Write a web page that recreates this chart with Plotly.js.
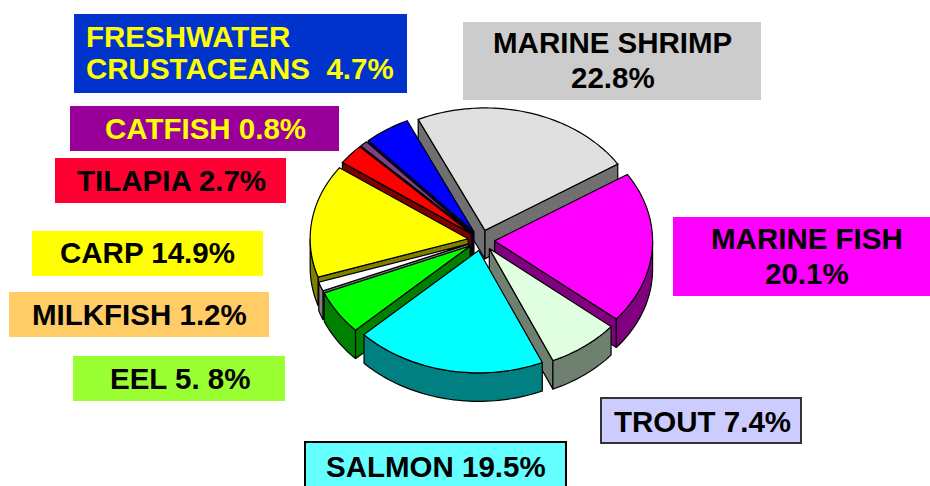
<!DOCTYPE html>
<html>
<head>
<meta charset="utf-8">
<script src="https://cdn.plot.ly/plotly-3.0.1.min.js"></script>
<style>html,body{margin:0;padding:0;background:#fff;overflow:hidden}#chart{width:930px;height:486px}</style>
</head>
<body>
<div id="chart"></div>
<script>
// Data, clockwise from the first slice
const categories = ['MARINE SHRIMP','MARINE FISH','TROUT','SALMON','EEL','MILKFISH','CARP','TILAPIA','CATFISH','FRESHWATER CRUSTACEANS'];
const shares = [22.8,20.1,7.4,19.5,5.8,1.2,14.9,2.7,0.8,4.7];
const topColors = ['#E0E0E0','#FF00FF','#E0FFE0','#00FFFF','#00FF00','#FFFFFF','#FFFF00','#FF0000','#804080','#0000FF'];
const sideColors = ['#707070','#800080','#708070','#008080','#008000','#808080','#808000','#800000','#402040','#000080'];
const labelLines = [['MARINE SHRIMP','22.8%'],['MARINE FISH','20.1%'],['TROUT 7.4%'],['SALMON 19.5%'],['EEL 5. 8%'],['MILKFISH 1.2%'],['CARP 14.9%'],['TILAPIA 2.7%'],['CATFISH 0.8%'],['FRESHWATER','CRUSTACEANS  4.7%']];

// Label styling (pixel boxes of the page)
const boxes = [
  {x0:463,x1:761,y0:22,y1:100,fill:'#CCCCCC',text:'#000',tx:612.5,ty:[43,77]},
  {x0:673,x1:930,y0:217,y1:296,fill:'#FF00FF',text:'#000',tx:807,ty:[238,273]},
  {x0:601,x1:801,y0:398,y1:443,fill:'#CCCCFF',text:'#000',tx:702,ty:[421],border:'#333333'},
  {x0:305,x1:566,y0:442,y1:492,fill:'#66FFFF',text:'#000',tx:435.5,ty:[466],border:'#000000'},
  {x0:73,x1:285,y0:356,y1:401,fill:'#99FF33',text:'#000',tx:179.5,ty:[378]},
  {x0:9,x1:269,y0:292,y1:337,fill:'#FFCC66',text:'#000',tx:139.5,ty:[314]},
  {x0:32,x1:263,y0:231,y1:276,fill:'#FFFF00',text:'#000',tx:147.5,ty:[252.5]},
  {x0:55,x1:286,y0:158,y1:203,fill:'#FF0033',text:'#000',tx:171,ty:[180]},
  {x0:70,x1:339,y0:106,y1:151,fill:'#990099',text:'#FFFF00',tx:205.5,ty:[128]},
  {x0:74,x1:407,y0:14,y1:93,fill:'#0033CC',text:'#FFFF00',tx:85,ty:[36,69],left:true}
];

// Pie geometry
const W = 930, H = 486;
const cx = 481.3, cy = 240.3, R = 158;   // page pixels of centre, radius
const tilt = 0.775, depth = 28.5 / R, pull = 13.3 / R, startDeg = -25;
const rad = d => d * Math.PI / 180;

function arcPts(a, b, ox, oy) {
  const pts = [], n = Math.max(2, Math.ceil(Math.abs(b - a) / 1.5));
  for (let i = 0; i <= n; i++) {
    const t = rad(a + (b - a) * i / n);
    pts.push([ox + Math.sin(t), oy + tilt * Math.cos(t)]);
  }
  return pts;
}
function poly(pts, fill, name) {
  const x = pts.map(p => p[0]), y = pts.map(p => p[1]);
  x.push(x[0]); y.push(y[0]);
  return {type:'scatter', mode:'lines', x, y, fill:'toself', fillcolor:fill, name,
          line:{color:'#000', width:1.2, simplify:false}, hoverinfo:'name', showlegend:false};
}

const total = shares.reduce((s, v) => s + v, 0);
let acc = startDeg;
const slices = shares.map((v, i) => {
  const a = acc, b = acc + v / total * 360; acc = b;
  return {i, a, b, mid:(a + b) / 2};
});
slices.sort((p, q) => Math.cos(rad(q.mid)) - Math.cos(rad(p.mid)));

const traces = [];
slices.forEach(s => {
  const name = categories[s.i], top = topColors[s.i], side = sideColors[s.i];
  const ox = pull * Math.sin(rad(s.mid)), oy = pull * tilt * Math.cos(rad(s.mid));
  const drop = p => [p[0], p[1] - depth];
  const wall = th => {
    const e = [ox + Math.sin(rad(th)), oy + tilt * Math.cos(rad(th))], o = [ox, oy];
    return [o, e, drop(e), drop(o)];
  };
  if (Math.sin(rad(s.a)) < 0) traces.push(poly(wall(s.a), side, name));
  if (Math.sin(rad(s.b)) > 0) traces.push(poly(wall(s.b), side, name));
  const lo = Math.max(s.a, 90), hi = Math.min(s.b, 270);
  if (hi > lo) {
    const arc = arcPts(lo, hi, ox, oy);
    traces.push(poly(arc.concat(arc.slice().reverse().map(drop)), side, name));
  }
  traces.push(poly([[ox, oy]].concat(arcPts(s.a, s.b, ox, oy)), top, name));
});

const shapes = [], annotations = [];
boxes.forEach((b, i) => {
  shapes.push({type:'rect', xref:'paper', yref:'paper', layer:'below',
    x0:b.x0 / W, x1:b.x1 / W, y0:1 - b.y1 / H, y1:1 - b.y0 / H,
    fillcolor:b.fill, line:b.border ? {color:b.border, width:2} : {width:0}});
  labelLines[i].forEach((t, j) => annotations.push({
    xref:'paper', yref:'paper', x:b.tx / W, y:1 - b.ty[j] / H,
    xanchor:b.left ? 'left' : 'center', yanchor:'middle', showarrow:false, text:t, borderpad:0,
    font:{family:'"Liberation Sans", Arial, sans-serif', size:29.5, color:b.text, weight:700}
  }));
});

const hidden = {visible:false, showgrid:false, zeroline:false, fixedrange:true};
Plotly.newPlot('chart', traces, {
  width:W, height:H, margin:{l:0, r:0, t:0, b:0, pad:0},
  paper_bgcolor:'#fff', plot_bgcolor:'rgba(0,0,0,0)', showlegend:false,
  xaxis:Object.assign({range:[-cx / R, (W - cx) / R]}, hidden),
  yaxis:Object.assign({range:[(cy - H) / R, cy / R]}, hidden),
  shapes, annotations
}, {displayModeBar:false, staticPlot:true});
</script>
</body>
</html>
